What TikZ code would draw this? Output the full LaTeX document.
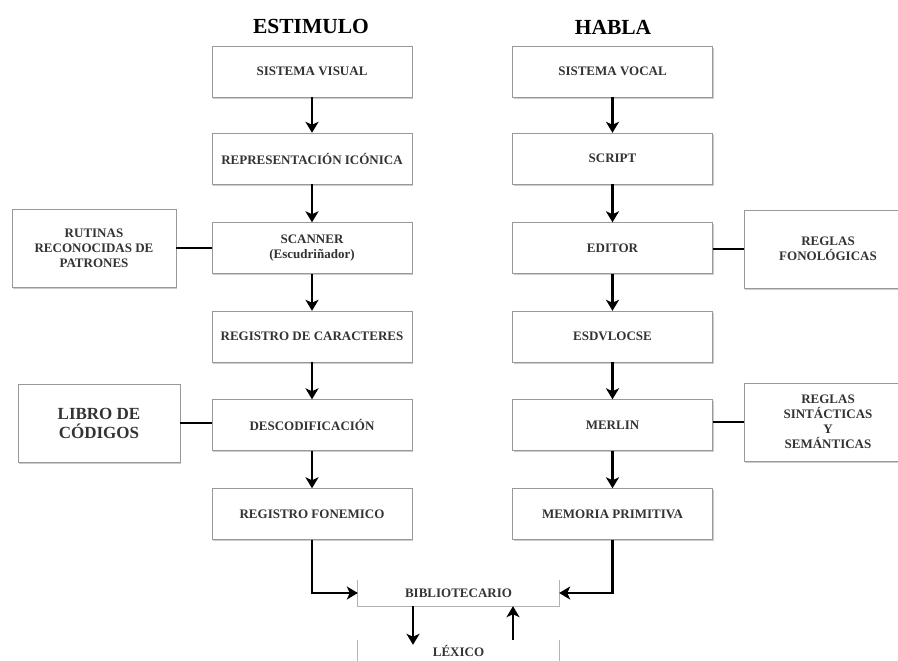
\documentclass[tikz,border=0pt]{standalone}
\usepackage{fontspec}
\setmainfont{Liberation Serif}
\usetikzlibrary{arrows.meta,shadows,calc}
\tikzstyle{stage}=[rectangle,draw=black!40,fill=white,drop shadow={shadow xshift=1pt,shadow yshift=-1.8pt,opacity=0.4},minimum width=200pt,minimum height=51pt,inner sep=2pt,align=center,text=black!80,font=\fontsize{13}{15}\selectfont\bfseries]
\tikzstyle{sidebox}=[stage,minimum width=166pt,minimum height=78pt]
\tikzstyle{openbox}=[rectangle,minimum width=201pt,inner sep=0pt,text=black!80,font=\fontsize{13}{15}\selectfont\bfseries]
\tikzstyle{flow} = [draw,line width=2.5pt,-{Stealth[length=11pt,width=13pt,inset=3pt]}]
\tikzstyle{link} = [draw,line width=2.5pt]
\tikzstyle{rim} = [draw=black!30,line width=1pt]
\tikzstyle{title} = [font=\fontsize{21.5}{24}\selectfont\bfseries]

\begin{document}
\begin{tikzpicture}[x=1pt,y=-1pt]

    \path[use as bounding box] (0,0) rectangle (898,661);
    \clip (0,0) rectangle (898,661);

    % titles
    \node[title] (estimulo) at (311,26) {ESTIMULO};
    \node[title] (habla) at (613,27) {HABLA};

    % left column
    \foreach \pos/\name/\label in {{(312,71.5)/visual/SISTEMA VISUAL}, {(312,158.5)/iconica/REPRESENTACIÓN ICÓNICA}, {(312,248)/scanner/SCANNER\\(Escudriñador)}, {(312,336.5)/caracteres/REGISTRO DE CARACTERES}, {(312,425)/descod/DESCODIFICACIÓN}, {(312,514)/fonemico/REGISTRO FONEMICO}}
        \node[stage] (\name) at \pos {\label};

    % right column
    \foreach \pos/\name/\label in {{(612.5,71.5)/vocal/SISTEMA VOCAL}, {(612.5,158.5)/script/SCRIPT}, {(612.5,248)/editor/EDITOR}, {(612.5,336.5)/esdvlocse/ESDVLOCSE}, {(612.5,425)/merlin/MERLIN}, {(612.5,514)/memoria/MEMORIA PRIMITIVA}}
        \node[stage] (\name) at \pos {\label};

    % side boxes
    \node[sidebox,minimum width=164pt] (rutinas) at (94,248) {RUTINAS\\RECONOCIDAS DE\\PATRONES};
    \node[sidebox,minimum width=162pt,font=\fontsize{17}{19}\selectfont\bfseries] (libro) at (99,423) {LIBRO DE\\CÓDIGOS};
    \node[sidebox,minimum width=168pt] (fonol) at (828,249) {REGLAS\\FONOLÓGICAS};
    \node[sidebox,minimum width=168pt] (sintac) at (828,422) {REGLAS\\SINTÁCTICAS\\Y\\SEMÁNTICAS};

    \foreach \source/ \dest in {visual/iconica, iconica/scanner, scanner/caracteres, caracteres/descod, descod/fonemico, vocal/script, script/editor, editor/esdvlocse, esdvlocse/merlin, merlin/memoria}
        \path[flow] (\source) -- (\dest);

    \path[link] (rutinas.east) -- (rutinas.east -| scanner.west);
    \path[link] (libro.east) -- (libro.east -| descod.west);
    \path[link] (fonol.west) -- (fonol.west -| editor.east);
    \path[link] (sintac.west) -- (sintac.west -| merlin.east);

%Bibliotecario y lexico

    \node[openbox,minimum height=26pt] (biblio) at (458.5,593) {BIBLIOTECARIO};
    \draw[rim] (biblio.north west) -- (biblio.south west) -- (biblio.south east) -- (biblio.north east);
    \node[openbox,minimum height=22pt] (lexico) at (458.5,651) {LÉXICO};
    \draw[rim] (lexico.north west) -- (lexico.south west);
    \draw[rim] (lexico.north east) -- (lexico.south east);

    \path[flow] (fonemico.south) |- (biblio.west);
    \path[flow] (memoria.south) |- (biblio.east);
    \path[flow] ([xshift=-45.5pt]biblio.south) -- ([xshift=-45.5pt,yshift=-5pt]lexico.north);
    \path[flow] ([xshift=54.5pt]lexico.north) -- ([xshift=54.5pt]biblio.south);

\end{tikzpicture}
\end{document}
